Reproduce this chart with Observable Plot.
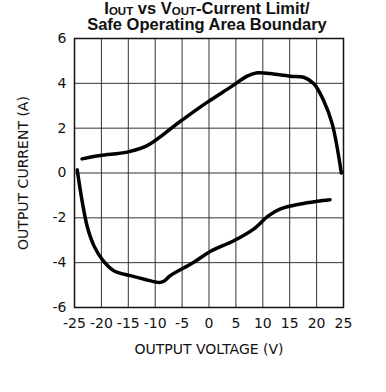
<!DOCTYPE html>
<html><head><meta charset="utf-8">
<script src="https://cdn.jsdelivr.net/npm/d3@7"></script>
<script src="https://cdn.jsdelivr.net/npm/@observablehq/plot@0.6"></script>
<style>
body{margin:0;background:#fff;}
#wrap{position:relative;width:386px;height:392px;}
.t{position:absolute;left:0;width:414px;text-align:center;font-family:"Liberation Sans",Arial,sans-serif;font-weight:bold;font-size:16.5px;color:#111;line-height:16px;}
.t sub{font-size:11.5px;vertical-align:-1px;line-height:0;}
</style></head>
<body><div id="wrap">
<div id="chart"></div>
<div class="t" style="top:0px;">I<sub>OUT</sub> vs V<sub>OUT</sub>-Current Limit/</div>
<div class="t" style="top:16px;">Safe Operating Area Boundary</div>
</div>
<script>
const xTicks = [-25,-20,-15,-10,-5,0,5,10,15,20,25];
const yTicks = [-6,-4,-2,0,2,4,6];
const upperV = [-23.6,-20.2,-15.2,-11.5,-5.3,-0.3,4.0,7.1,9.0,10.8,15.1,17.6,19.5,21.3,22.9,24.6];
const upperI = [0.63,0.78,0.93,1.22,2.31,3.16,3.83,4.32,4.47,4.45,4.32,4.27,3.98,3.23,2.19,0.0];
const lowerV = [-24.5,-23.6,-22.6,-21.4,-19.9,-17.7,-14.6,-11.5,-9.3,-8.4,-7.2,-2.8,0.3,4.6,8.3,11.1,13.3,17.0,20.1,22.5];
const lowerI = [0.14,-1.23,-2.42,-3.24,-3.84,-4.36,-4.58,-4.77,-4.88,-4.83,-4.58,-3.98,-3.49,-3.02,-2.5,-1.9,-1.6,-1.38,-1.26,-1.19];
const upper = upperV.map((v,i)=>({v, i:upperI[i]}));
const lower = lowerV.map((v,i)=>({v, i:lowerI[i]}));
const fmt = d => String(d);
const chart = Plot.plot({
  width:386, height:392,
  marginLeft:74, marginRight:43, marginTop:38, marginBottom:85,
  style:{fontFamily:"DejaVu Sans, sans-serif", fontSize:"13px", color:"#111", background:"#fff"},
  x:{domain:[-25,25]},
  y:{domain:[-6,6]},
  marks:[
    Plot.gridX(xTicks,{stroke:"#333", strokeOpacity:1, strokeWidth:1}),
    Plot.gridY(yTicks,{stroke:"#333", strokeOpacity:1, strokeWidth:1}),
    Plot.frame({stroke:"#111", strokeWidth:1.5}),
    Plot.axisX(xTicks,{tickSize:0, tickPadding:11, tickFormat:fmt, fontSize:14, label:"OUTPUT VOLTAGE (V)", labelAnchor:"center", labelOffset:46, labelArrow:"none"}),
    Plot.axisY(yTicks,{tickSize:0, tickPadding:8, tickFormat:fmt, fontSize:14, label:"OUTPUT CURRENT (A)", labelAnchor:"center", labelOffset:56, labelArrow:"none"}),
    Plot.line(upper,{x:"v", y:"i", stroke:"#000", strokeWidth:3.5, curve:"catmull-rom"}),
    Plot.line(lower,{x:"v", y:"i", stroke:"#000", strokeWidth:3.5, curve:"catmull-rom"})
  ]
});
document.getElementById("chart").appendChild(chart);
</script>
</body></html>
